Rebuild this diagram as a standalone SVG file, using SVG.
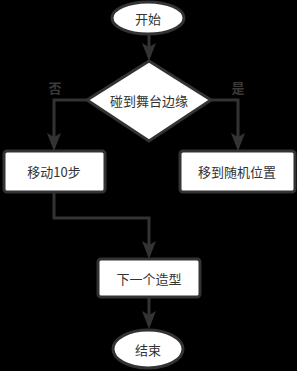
<svg xmlns="http://www.w3.org/2000/svg" width="297" height="371" viewBox="0 0 297 371">
<defs>
<style>
.node{fill:#fff;stroke:#333;stroke-width:3}
.t{font-family:"Noto Sans CJK SC","Noto Sans",sans-serif;font-size:13px;fill:#333;text-anchor:middle;dominant-baseline:central}
.lbl{font-family:"Noto Sans CJK SC","Noto Sans",sans-serif;font-size:13px;fill:#3a3a3a;font-weight:bold;text-anchor:middle;dominant-baseline:central}
.c{fill:none;stroke:#333;stroke-width:3}
</style>
<marker id="ah" markerUnits="userSpaceOnUse" markerWidth="18" markerHeight="14" refX="14" refY="7" orient="auto" viewBox="0 0 18 14">
<path d="M0,0 L4,7 L0,14 L18,7 Z" fill="#333"/>
</marker>
</defs>
<rect width="297" height="371" fill="#000"/>
<g id="connectors">
<path class="c" d="M149,35 V57" marker-end="url(#ah)"/>
<path class="c" d="M87,100 H54 V147" marker-end="url(#ah)"/>
<path class="c" d="M211,100 H238 V147" marker-end="url(#ah)"/>
<path class="c" d="M54,193 V218 H149 V255" marker-end="url(#ah)"/>
<path class="c" d="M149,297 V325" marker-end="url(#ah)"/>
<text class="lbl" x="55" y="87">否</text>
<text class="lbl" x="238" y="87">是</text>
</g>
<g id="start">
<ellipse class="node" cx="148" cy="18" rx="36" ry="16"/>
<text class="t" x="148" y="18">开始</text>
</g>
<g id="decision">
<polygon class="node" points="149,61 211,100 149,141 87,100"/>
<text class="t" x="149" y="100">碰到舞台边缘</text>
</g>
<g id="move10">
<rect class="node" x="4" y="151" width="101" height="41" rx="3"/>
<text class="t" x="54" y="171">移动10步</text>
</g>
<g id="random">
<rect class="node" x="180" y="151" width="115" height="41" rx="3"/>
<text class="t" x="237" y="171">移到随机位置</text>
</g>
<g id="next">
<rect class="node" x="98" y="259" width="102" height="38" rx="3"/>
<text class="t" x="149" y="278">下一个造型</text>
</g>
<g id="end">
<ellipse class="node" cx="148" cy="349" rx="35" ry="19"/>
<text class="t" x="148" y="349">结束</text>
</g>
</svg>
